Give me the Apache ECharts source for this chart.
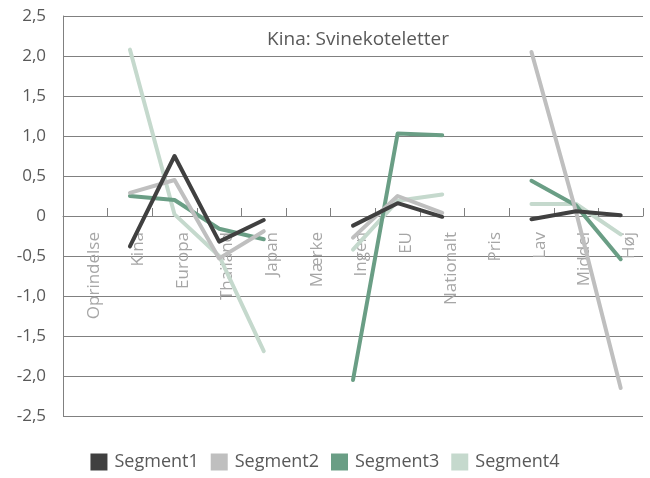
<!DOCTYPE html>
<html>
<head>
<meta charset="utf-8">
<script src="https://cdn.jsdelivr.net/npm/echarts@6/dist/echarts.min.js"></script>
<style>html,body{margin:0;padding:0;background:#fff;}#c{width:650px;height:478px;}</style>
</head>
<body>
<div id="c"></div>
<script>
var categories = ['Oprindelse','Kina','Europa','Thailand','Japan','Mærke','Ingen','EU','Nationalt','Pris','Lav','Middel','Høj'];
var segment1 = [null,-0.38,0.75,-0.32,-0.05,null,-0.12,0.16,-0.01,null,-0.04,0.06,0.01];
var segment2 = [null,0.29,0.45,-0.53,-0.19,null,-0.27,0.25,0.04,null,2.05,0.05,-2.15];
var segment3 = [null,0.25,0.20,-0.16,-0.29,null,-2.05,1.03,1.01,null,0.44,0.13,-0.54];
var segment4 = [null,2.08,0.02,-0.50,-1.69,null,-0.42,0.19,0.27,null,0.15,0.15,-0.23];
var seriesNames = ['Segment1','Segment2','Segment3','Segment4'];
var seriesData = [segment1, segment2, segment3, segment4];
var colors = ['#404040','#bfbfbf','#6a9e85','#c5d9cd'];
var titleText = 'Kina: Svinekoteletter';

var font = '"Open Sans", "Segoe UI", sans-serif';
var chart = echarts.init(document.getElementById('c'), null, {renderer:'canvas'});
chart.setOption({
  animation: false,
  color: colors,
  textStyle: {fontFamily: font},
  grid: {left: 63, right: 7, top: 16, bottom: 62, containLabel: false, outerBoundsMode: 'none'},
  title: {
    text: titleText, left: 353, top: 25, textAlign: 'center',
    textStyle: {fontFamily: font, fontSize: 19, fontWeight: 'normal', color: '#595959'}
  },
  legend: {
    data: seriesNames, bottom: 2, left: 'center', icon: 'rect',
    itemWidth: 17, itemHeight: 17, itemGap: 12,
    textStyle: {fontFamily: font, fontSize: 18, color: '#595959', padding: [0,0,0,2]}
  },
  xAxis: {
    type: 'category', data: categories, boundaryGap: true,
    offset: -200,
    axisLine: {onZero: false, lineStyle: {color: '#808080', width: 1}},
    axisTick: {show: true, inside: true, length: 8, lineStyle: {color: '#808080'}},
    axisLabel: {rotate: 90, margin: 16, color: '#a6a6a6', fontSize: 17, fontFamily: font, interval: 0,
      verticalAlign: 'top'},
    splitLine: {show: false}
  },
  yAxis: {
    type: 'value', min: -2.5, max: 2.5, interval: 0.5,
    axisLine: {show: true, lineStyle: {color: '#808080', width: 1}},
    axisTick: {show: true, inside: true, length: 5, lineStyle: {color: '#808080'}},
    axisLabel: {
      margin: 17, color: '#595959', fontSize: 17, fontFamily: font,
      formatter: function (v) { return Math.abs(v) < 1e-9 ? '0' : v.toFixed(1).replace('.', ','); }
    },
    splitLine: {show: true, lineStyle: {color: '#808080', width: 1}}
  },
  series: seriesNames.map(function (n, i) {
    return {
      name: n, type: 'line', data: seriesData[i], showSymbol: false, symbol: 'none',
      connectNulls: false, z: 10 - i,
      lineStyle: {width: 4, color: colors[i], cap: 'round', join: 'round'},
      itemStyle: {color: colors[i]}
    };
  })
});
</script>
</body>
</html>
